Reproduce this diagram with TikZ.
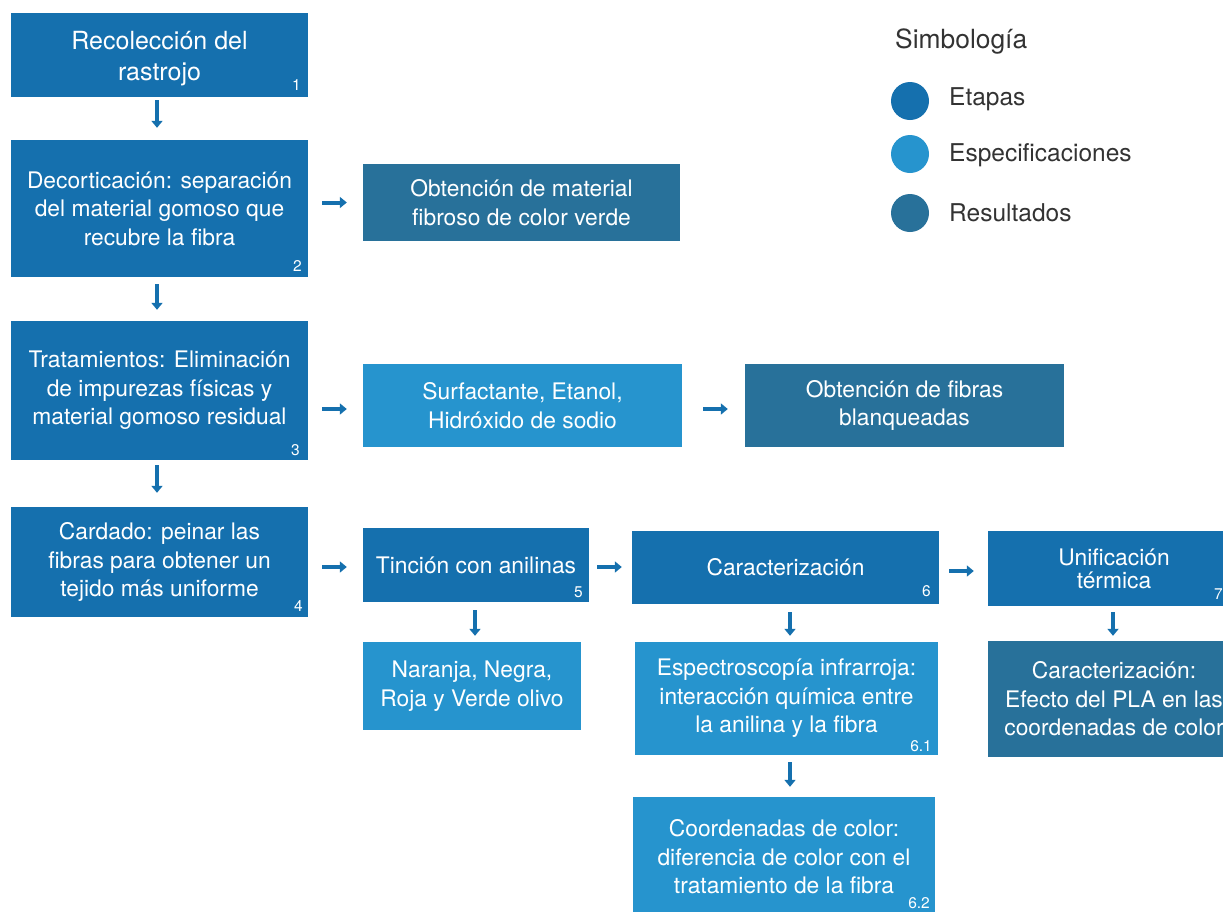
\documentclass[tikz,border=0pt]{standalone}
\usepackage{fontspec}
\setmainfont{TeX Gyre Heros}
\usetikzlibrary{arrows.meta,calc}
\definecolor{etapa}{HTML}{1570AE}
\definecolor{espec}{HTML}{2694CE}
\definecolor{resul}{HTML}{28719A}
\definecolor{txtgray}{HTML}{333333}
\tikzset{
  box/.style={rectangle, inner sep=0pt, text=white, align=center,
    font=\fontsize{22.8}{28.5}\selectfont},
  etapabox/.style={box, fill=etapa},
  especbox/.style={box, fill=espec},
  resulbox/.style={box, fill=resul},
  numlabel/.style={anchor=base east, text=white, inner sep=0pt,
    font=\fontsize{15.5}{17}\selectfont},
  arr/.style={draw=etapa, line width=4pt, -{Triangle[width=11pt,length=7pt]}},
  legtext/.style={anchor=west, text=txtgray, inner sep=0pt,
    font=\fontsize{24.5}{28}\selectfont},
}
\begin{document}
\begin{tikzpicture}[x=1pt,y=-1pt]
\clip (0,0) rectangle (1223,911);
\fill[white] (0,0) rectangle (1223,911);

% main column
\node[etapabox, minimum width=297pt, minimum height=84pt] (b1) at (159.5,55) {};
\node[box, font=\fontsize{25}{31}\selectfont] (b1t) at (159.5,59) {Recolección del\\rastrojo};
\node[etapabox, minimum width=297pt, minimum height=137pt] (b2) at (159.5,208.5) {Decorticación: separación\\del material gomoso que\\recubre la fibra};
\node[etapabox, minimum width=297pt, minimum height=139pt] (b3) at (159.5,390.5) {Tratamientos: Eliminación\\de impurezas físicas y\\material gomoso residual};
\node[etapabox, minimum width=297pt, minimum height=110pt] (b4) at (159.5,562) {Cardado: peinar las\\fibras para obtener un\\tejido más uniforme};

\node[numlabel] (n1) at (301,90) {1};
\node[numlabel] (n2) at (302,271) {2};
\node[numlabel] (n3) at (300,455) {3};
\node[numlabel] (n4) at (303,611) {4};

% row 2
\node[resulbox, minimum width=317pt, minimum height=77pt] (r1) at (521.5,202.5) {Obtención de material\\fibroso de color verde};

% row 3
\node[especbox, minimum width=319pt, minimum height=83pt] (s1) at (522.5,405.5) {Surfactante, Etanol,\\Hidróxido de sodio};
\node[resulbox, minimum width=319pt, minimum height=83pt] (r2) at (904.5,405.5) {Obtención de fibras\\blanqueadas};

% row 4
\node[etapabox, minimum width=226pt, minimum height=74pt] (t) at (476,565) {Tinción con anilinas};
\node[numlabel] (n5) at (583,597) {5};
\node[especbox, minimum width=218pt, minimum height=88pt] (na) at (472,686) {Naranja, Negra,\\Roja y Verde olivo};

\node[etapabox, minimum width=307pt, minimum height=73pt] (c) at (785.5,567.5) {Caracterización};
\node[numlabel] (n6) at (931,596) {6};
\node[especbox, minimum width=303pt, minimum height=113pt] (c1) at (786.5,698.5) {Espectroscopía infrarroja:\\interacción química entre\\la anilina y la fibra};
\node[numlabel] (n61) at (932,751) {6.1};
\node[especbox, minimum width=302pt, minimum height=120pt] (c2) at (784,857) {Coordenadas de color:\\diferencia de color con el\\tratamiento de la fibra};
\node[numlabel] (n62) at (930,908) {6.2};

\node[etapabox, minimum width=252pt, minimum height=75pt, font=\fontsize{22.8}{23}\selectfont] (u) at (1114,568.5) {Unificación\\térmica};
\node[numlabel] (n7) at (1223,599) {7};
\node[resulbox, minimum width=252pt, minimum height=116pt] (ur) at (1114,699) {Caracterización:\\Efecto del PLA en las\\coordenadas de color};

% arrows
\draw[arr, shorten <=3pt, shorten >=12pt] (b1.south -| 157,0) -- (b2.north -| 157,0);
\draw[arr, shorten <=7pt, shorten >=11pt] (b2.south -| 157,0) -- (b3.north -| 157,0);
\draw[arr, shorten <=5pt, shorten >=14pt] (b3.south -| 157,0) -- (b4.north -| 157,0);
\draw[arr, shorten <=14pt, shorten >=16pt] (b2.east |- r1.west) -- (r1.west);
\draw[arr, shorten <=14pt, shorten >=16pt] (b3.east |- 0,409) -- (s1.west |- 0,409);
\draw[arr, shorten <=21pt, shorten >=17pt] (s1.east |- 0,409) -- (r2.west |- 0,409);
\draw[arr, shorten <=14pt, shorten >=16pt] (b4.east |- 0,567) -- (t.west |- 0,567);
\draw[arr, shorten <=8pt, shorten >=10pt] (t.east |- 0,567) -- (c.west |- 0,567);
\draw[arr, shorten <=10pt, shorten >=14pt] (c.east |- 0,571) -- (u.west |- 0,571);
\draw[arr, shorten <=8pt, shorten >=6pt] (t.south -| 475,0) -- (na.north -| 475,0);
\draw[arr, shorten <=8pt, shorten >=6pt] (c.south -| 790,0) -- (c1.north -| 790,0);
\draw[arr, shorten <=7pt, shorten >=10pt] (c1.south -| 790,0) -- (c2.north -| 790,0);
\draw[arr, shorten <=6pt, shorten >=5pt] (u.south -| 1113,0) -- (ur.north -| 1113,0);

% legend
\node[anchor=west, text=txtgray, inner sep=0pt, font=\fontsize{26.4}{30}\selectfont] (leg) at (895,42) {Simbología};
\node[circle, fill=etapa, minimum size=38pt, inner sep=0pt] (l1) at (910,101) {};
\node[circle, fill=espec, minimum size=38pt, inner sep=0pt] (l2) at (910,154) {};
\node[circle, fill=resul, minimum size=38pt, inner sep=0pt] (l3) at (910,213) {};
\node[legtext] (lt1) at (949,99) {Etapas};
\node[legtext] (lt2) at (949,155) {Especificaciones};
\node[legtext] (lt3) at (949,213) {Resultados};
\end{tikzpicture}
\end{document}
